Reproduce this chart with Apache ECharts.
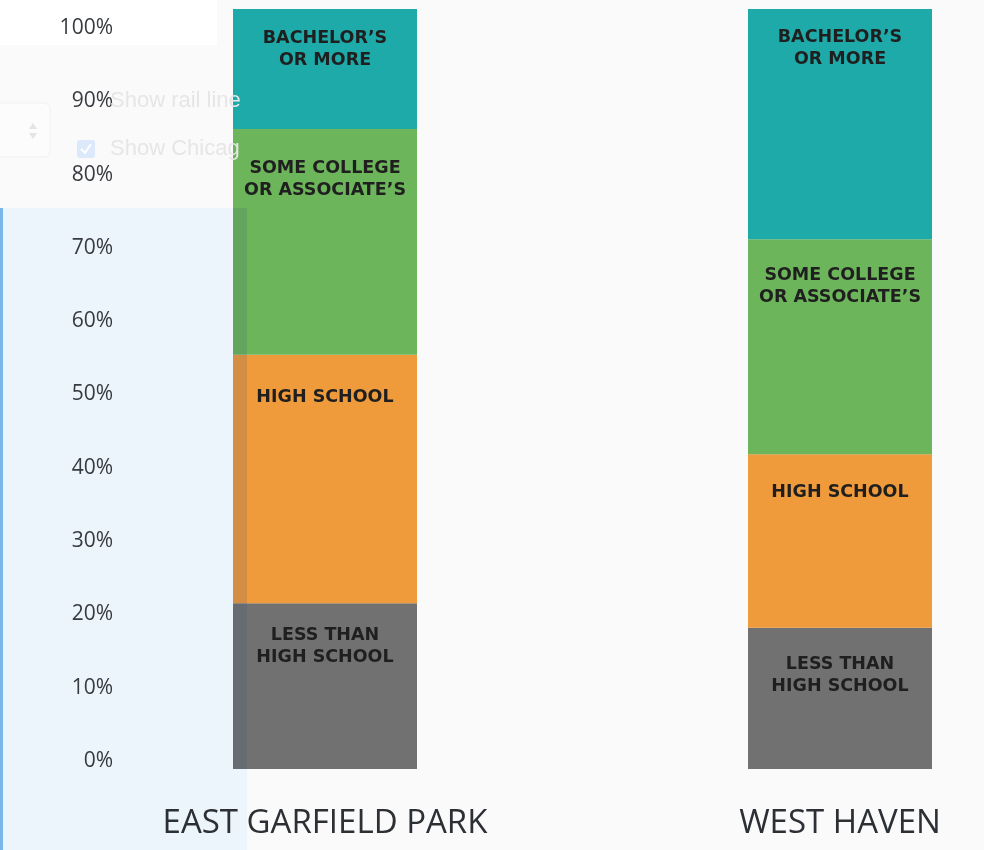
<!DOCTYPE html>
<html>
<head>
<meta charset="utf-8">
<title>Educational attainment</title>
<script src="https://cdn.jsdelivr.net/npm/echarts@6/dist/echarts.min.js"></script>
<style>
  html, body { margin: 0; padding: 0; background: #fafafa; }
  #chart { width: 984px; height: 850px; }
</style>
</head>
<body>
<div id="chart"></div>
<script>
// Community areas compared
const categories = ['EAST GARFIELD PARK', 'WEST HAVEN'];

// Share of adults (%) by highest level of education
const lessThanHighSchool = [21.8, 18.6];
const highSchool = [32.7, 22.8];
const someCollege = [29.7, 28.3];
const bachelorsOrMore = [15.8, 30.3];

// Value axis tick labels
const yTicks = [0, 10, 20, 30, 40, 50, 60, 70, 80, 90, 100];

const segments = [
  { name: 'LESS THAN\nHIGH SCHOOL', data: lessThanHighSchool, color: '#717171', gap: [21, 26] },
  { name: 'HIGH SCHOOL', data: highSchool, color: '#ef9a3b', gap: [32, 27] },
  { name: 'SOME COLLEGE\nOR ASSOCIATE’S', data: someCollege, color: '#6db55b', gap: [28, 25] },
  { name: 'BACHELOR’S\nOR MORE', data: bachelorsOrMore, color: '#1eaaa9', gap: [18, 17] }
];

const chart = echarts.init(document.getElementById('chart'), null, { renderer: 'canvas' });

const barSeries = segments.map(s => ({
  type: 'bar',
  name: s.name,
  stack: 'edu',
  xAxisIndex: 0,
  yAxisIndex: 0,
  barWidth: 184,
  itemStyle: { color: s.color },
  data: s.data.map((v, i) => ({
    value: v,
    label: { distance: s.gap[i] }
  })),
  label: {
    show: true,
    position: 'insideTop',
    formatter: () => s.name,
    fontFamily: 'DejaVu Sans',
    fontWeight: 'bold',
    fontSize: 17.5,
    lineHeight: 22,
    color: '#1f1f1f',
    align: 'center'
  },
  emphasis: { disabled: true },
  animation: false
}));

const option = {
  backgroundColor: '#fafafa',
  animation: false,
  grid: [
    { left: 325, right: 144, top: 9, bottom: 81 },
    { left: 121, right: 600, top: 28, bottom: 89 }
  ],
  xAxis: [
    {
      type: 'category',
      gridIndex: 0,
      data: categories,
      boundaryGap: false,
      axisLine: { show: false },
      axisTick: { show: false },
      axisLabel: {
        interval: 0,
        margin: 38,
        fontFamily: 'Open Sans',
        fontSize: 33,
        color: '#2c2f33'
      }
    },
    { type: 'value', gridIndex: 1, show: false, min: 0, max: 1 }
  ],
  yAxis: [
    { type: 'value', gridIndex: 0, min: 0, max: 100, show: false },
    {
      type: 'value',
      gridIndex: 1,
      min: 0,
      max: 100,
      interval: 10,
      axisLine: { show: false },
      axisTick: { show: false },
      splitLine: { show: false },
      axisLabel: {
        margin: 8,
        fontFamily: 'Open Sans',
        fontSize: 21,
        color: '#373b40',
        formatter: v => (yTicks.indexOf(v) >= 0 ? v + '%' : '')
      }
    }
  ],
  graphic: [
    // side panel of the page behind the chart
    { type: 'rect', z: -10, shape: { x: 0, y: 208, width: 247, height: 642 }, style: { fill: '#ecf4fc' } },
    { type: 'rect', z: -9, shape: { x: 0, y: 208, width: 3, height: 642 }, style: { fill: '#7ab6ea' } },
    { type: 'rect', z: -10, shape: { x: 0, y: 0, width: 217, height: 45 }, style: { fill: '#ffffff' } },
    { type: 'rect', z: -10, shape: { x: -10, y: 103, width: 60, height: 54, r: 6 }, style: { fill: '#fcfcfc', stroke: '#f1f1f1', lineWidth: 1 } },
    { type: 'polygon', z: -9, shape: { points: [[29, 129], [37, 129], [33, 123]] }, style: { fill: '#e4e4e4' } },
    { type: 'polygon', z: -9, shape: { points: [[29, 133], [37, 133], [33, 139]] }, style: { fill: '#e4e4e4' } },
    // control overlay drawn on top of the bars
    { type: 'rect', z: 100, shape: { x: 233, y: 208, width: 14, height: 561 }, style: { fill: 'rgba(40,70,120,0.14)' } },
    { type: 'rect', z: 100, shape: { x: 77, y: 140, width: 18, height: 18, r: 3 }, style: { fill: '#dce9fb' } },
    { type: 'polyline', z: 101, shape: { points: [[81, 149], [85, 153], [91, 144]] }, style: { stroke: '#ffffff', lineWidth: 2, fill: null } },
    {
      type: 'text', z: 100, x: 110, y: 101,
      style: {
        text: 'Show rail lines', width: 138, overflow: 'truncate', ellipsis: '',
        font: '22px "Liberation Sans"', fill: '#e6e6e6', verticalAlign: 'middle'
      }
    },
    {
      type: 'text', z: 100, x: 110, y: 149,
      style: {
        text: 'Show Chicago', width: 138, overflow: 'truncate', ellipsis: '',
        font: '22px "Liberation Sans"', fill: '#e6e6e6', verticalAlign: 'middle'
      }
    }
  ],
  series: barSeries
};

chart.setOption(option);
</script>
</body>
</html>
